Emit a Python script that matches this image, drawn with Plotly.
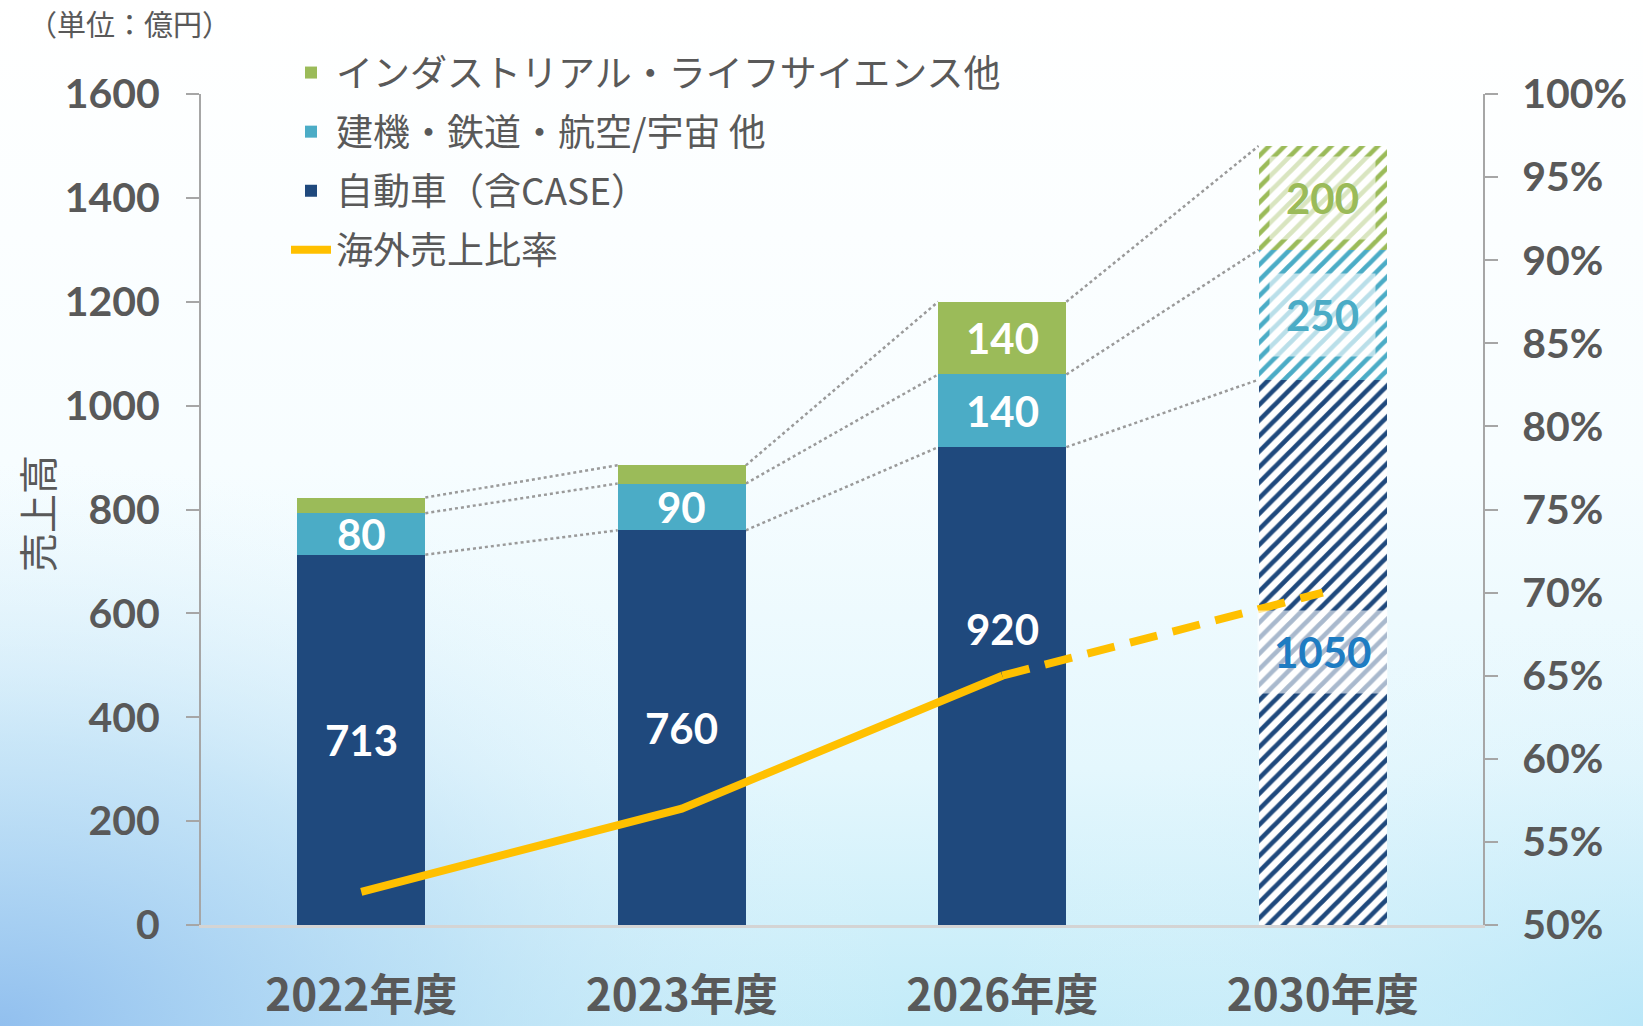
import base64
import plotly.graph_objects as go

# ---------------- data ----------------
categories = ["2022年度", "2023年度", "2026年度", "2030年度"]
auto_sales = [713, 760, 920, 1050]          # 自動車（含CASE）
infra_sales = [80, 90, 140, 250]            # 建機・鉄道・航空/宇宙 他
industrial_sales = [30, 35, 140, 200]       # インダストリアル・ライフサイエンス他
overseas_ratio = [52, 57, 65, 70]           # 海外売上比率 (%)
forecast_flags = [False, False, False, True]

series_names = ["自動車（含CASE）", "建機・鉄道・航空/宇宙 他", "インダストリアル・ライフサイエンス他"]
line_name = "海外売上比率"
y_ticks = [0, 200, 400, 600, 800, 1000, 1200, 1400, 1600]
y2_ticks = [50, 55, 60, 65, 70, 75, 80, 85, 90, 95, 100]
y2_ticktext = [f"{v}%" for v in y2_ticks]

# ---------------- style ----------------
C_AUTO = "#1F497D"
C_INFRA = "#4BACC6"
C_IND = "#9BBB59"
C_LINE = "#FFC000"
C_TXT = "#595959"
NUM_FONT = "Lato, 'Noto Sans', sans-serif"
JP_FONT = "'Noto Sans CJK JP', sans-serif"
BAR_W = 0.4

W, H = 1643, 1026
ML, MR, MT, MB = 201, 160, 94, 101
PW, PH = W - ML - MR, H - MT - MB


def px_x(px):
    return (px - ML) / PW


def px_y(py_from_top):
    return (H - py_from_top - MB) / PH


# background gradient as an SVG image
svg = f'''<svg xmlns="http://www.w3.org/2000/svg" width="{W}" height="{H}" viewBox="0 0 {W} {H}" preserveAspectRatio="none">
<defs>
<linearGradient id="g1" x1="0" y1="0" x2="0" y2="1">
<stop offset="0" stop-color="#ffffff"/>
<stop offset="0.45" stop-color="#f7fdff"/>
<stop offset="0.75" stop-color="#e4f7fd"/>
<stop offset="1" stop-color="#c2ebf8"/>
</linearGradient>
<radialGradient id="g2" cx="0" cy="1" r="0.55" gradientUnits="objectBoundingBox">
<stop offset="0" stop-color="#8fbdee" stop-opacity="0.95"/>
<stop offset="0.5" stop-color="#b5daf4" stop-opacity="0.6"/>
<stop offset="1" stop-color="#e8f6fd" stop-opacity="0"/>
</radialGradient>
<radialGradient id="g3" cx="1" cy="1" r="0.4" gradientUnits="objectBoundingBox">
<stop offset="0" stop-color="#b8e6f8" stop-opacity="0.8"/>
<stop offset="1" stop-color="#e8f6fd" stop-opacity="0"/>
</radialGradient>
</defs>
<rect width="{W}" height="{H}" fill="url(#g1)"/>
<rect width="{W}" height="{H}" fill="url(#g2)"/>
<rect width="{W}" height="{H}" fill="url(#g3)"/>
</svg>'''
bg_src = "data:image/svg+xml;base64," + base64.b64encode(svg.encode()).decode()

fig = go.Figure()

seg_values = [auto_sales, infra_sales, industrial_sales]
seg_colors = [C_AUTO, C_INFRA, C_IND]
ranks = [3, 2, 1]
for vals, col, name, rk in zip(seg_values, seg_colors, series_names, ranks):
    fig.add_trace(go.Bar(
        x=categories, y=vals, name=name,
        marker=dict(
            color=col,
            line=dict(width=0),
            pattern=dict(
                shape=["/" if f else "" for f in forecast_flags],
                fgcolor=col, bgcolor="white", size=11, solidity=0.42,
                fillmode="replace",
            ),
        ),
        legendgroup=name, legendrank=rk,
        hoverinfo="skip",
    ))

# overseas ratio line: solid up to 2026, dashed to 2030
split = 2
fig.add_trace(go.Scatter(
    x=categories[:split + 1], y=overseas_ratio[:split + 1], yaxis="y2",
    mode="lines", name=line_name, line=dict(color=C_LINE, width=8),
    legendgroup=line_name, legendrank=4,
))
fig.add_trace(go.Scatter(
    x=categories[split:], y=overseas_ratio[split:], yaxis="y2",
    mode="lines", name=line_name, showlegend=False,
    line=dict(color=C_LINE, width=8, dash="28px,16px"),
))

# cumulative levels
cum1 = auto_sales
cum2 = [a + b for a, b in zip(auto_sales, infra_sales)]
cum3 = [a + b + c for a, b, c in zip(auto_sales, infra_sales, industrial_sales)]

shapes = []
for i in range(len(categories) - 1):
    for lev in (cum1, cum2, cum3):
        shapes.append(dict(
            type="line", xref="x", yref="y",
            x0=i + BAR_W / 2, y0=lev[i], x1=i + 1 - BAR_W / 2, y1=lev[i + 1],
            line=dict(color="#9a9a9a", width=2.5, dash="dot"), layer="below",
        ))

# value labels
annotations = []
label_pos = {(0, 2): 0.62}  # (segment, category) -> relative position in segment
bases = [[0] * 4, cum1, cum2]
label_colors_fc = ["#1E7CC2", C_INFRA, C_IND]
for s, vals in enumerate(seg_values):
    for i, v in enumerate(vals):
        if v < 60:
            continue
        rel = label_pos.get((s, i), 0.5)
        fc = forecast_flags[i]
        annotations.append(dict(
            x=categories[i], y=bases[s][i] + v * rel, xref="x", yref="y",
            text=f"<b>{v}</b>", showarrow=False,
            font=dict(family=NUM_FONT, size=42,
                      color=label_colors_fc[s] if fc else "white"),
            bgcolor="rgba(255,255,255,0.62)" if fc else None,
            borderpad=16 if fc else 0,
        ))

# unit label
annotations.append(dict(
    x=px_x(26), y=px_y(23), xref="paper", yref="paper",
    xanchor="left", yanchor="middle", text="（単位：億円）", showarrow=False,
    font=dict(family=JP_FONT, size=29, color=C_TXT),
))
# y-axis title
annotations.append(dict(
    x=px_x(36), y=px_y(514), xref="paper", yref="paper",
    xanchor="center", yanchor="middle", text="売上高", textangle=-90,
    showarrow=False, font=dict(family=JP_FONT, size=39, color=C_TXT),
))

fig.update_layout(
    width=W, height=H, autosize=False,
    margin=dict(l=ML, r=MR, t=MT, b=MB, pad=0, autoexpand=False),
    paper_bgcolor="#eaf7fc",
    plot_bgcolor="rgba(255,255,255,0.45)",
    barmode="stack", bargap=1 - BAR_W,
    images=[dict(source=bg_src, xref="paper", yref="paper",
                 x=-ML / PW, y=1 + MT / PH, sizex=W / PW, sizey=H / PH,
                 xanchor="left", yanchor="top", sizing="stretch",
                 layer="below", opacity=1)],
    shapes=shapes,
    annotations=annotations,
    showlegend=True,
    legend=dict(
        xref="container", yref="container",
        x=286 / W, y=1 - 42 / H, xanchor="left", yanchor="top",
        bgcolor="rgba(0,0,0,0)", font=dict(family=JP_FONT, size=37, color=C_TXT),
        tracegroupgap=8, itemwidth=40, traceorder="grouped",
    ),
    xaxis=dict(
        type="category", categoryorder="array", categoryarray=categories,
        showline=True, linecolor="#d4d4d4", linewidth=3,
        ticks="", ticklabelstandoff=30, automargin=False,
        tickfont=dict(family=JP_FONT, size=44, color=C_TXT, weight="bold"),
        showgrid=False, zeroline=False, range=[-0.5, 3.5],
    ),
    yaxis=dict(
        range=[0, 1600], tickvals=y_ticks, showgrid=False, zeroline=False,
        showline=True, linecolor="#a6a6a6", linewidth=2, automargin=False,
        ticks="outside", ticklen=13, tickwidth=2, tickcolor="#a6a6a6",
        ticklabelstandoff=18,
        tickfont=dict(family=NUM_FONT, size=41, color=C_TXT, weight="bold"),
    ),
    yaxis2=dict(
        overlaying="y", side="right", range=[50, 100],
        tickvals=y2_ticks, ticktext=y2_ticktext,
        showgrid=False, zeroline=False, automargin=False,
        showline=True, linecolor="#a6a6a6", linewidth=2,
        ticks="outside", ticklen=13, tickwidth=2, tickcolor="#a6a6a6",
        ticklabelstandoff=16,
        tickfont=dict(family=NUM_FONT, size=41, color=C_TXT, weight="bold"),
    ),
)

fig.write_html(
    "out.html",
    config={"displayModeBar": False},
    post_script="document.body.style.margin='0';document.body.style.overflow='hidden';",
)
